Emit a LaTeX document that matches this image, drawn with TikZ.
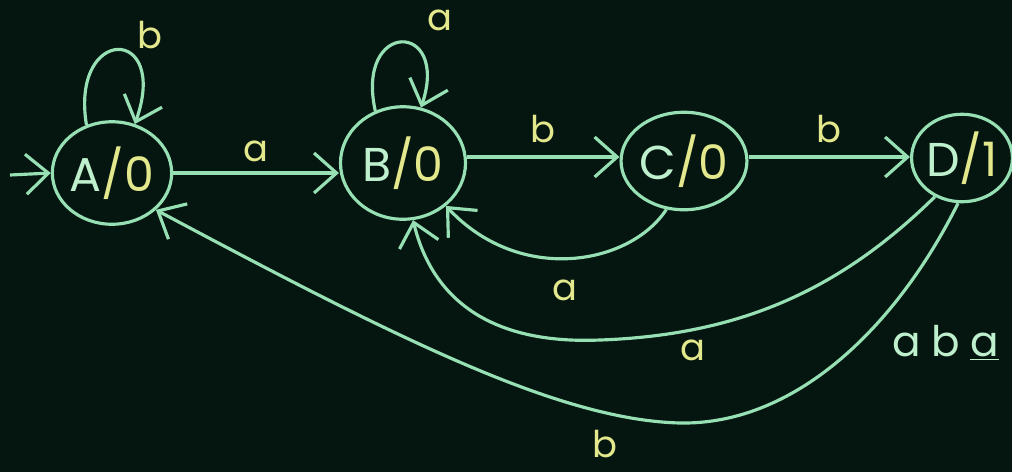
\documentclass[tikz,border=0pt]{standalone}
\usepackage{fontspec}
\setmainfont{Poppins}
\usepackage{tikz}
\usetikzlibrary{arrows.meta,shapes.geometric}
\definecolor{board}{RGB}{5,22,17}
\definecolor{chalk}{RGB}{150,224,180}
\definecolor{pale}{RGB}{190,240,205}
\definecolor{chalkyellow}{RGB}{228,232,140}

\begin{document}
\begin{tikzpicture}[
  x=0.2mm, y=-0.2mm,
  state/.style={
    draw=chalk, ellipse, line width=1.8pt,
    inner sep=0pt, text=pale,
    font=\fontsize{27}{27}\selectfont
  },
  arrow/.style={-{Straight Barb[length=4.5mm,width=8mm]},line width=1.8pt,chalk},
  lab/.style={text=chalkyellow,font=\fontsize{21}{21}\selectfont}
]
\clip (0,0) rectangle (1012,472);
\fill[board] (0,0) rectangle (1012,472);

\node[state,minimum width=2.2cm,minimum height=2.05cm] (A) at (112,173)
  {A\textcolor{chalkyellow}{/0}};
\node[state,minimum width=2.5cm,minimum height=2.25cm] (B) at (403,163)
  {B\textcolor{chalkyellow}{/0}};
\node[state,minimum width=2.2cm,minimum height=1.95cm] (C) at (684,161)
  {C\textcolor{chalkyellow}{/0}};
\node[state,minimum width=1.95cm,minimum height=1.75cm] (D) at (962,158)
  {D\textcolor{chalkyellow}{/1}};
\coordinate (start) at (10,175);

\draw[arrow] (start) -- (A.west);
\draw[arrow] (A.118) .. controls (70,25) and (170,25) .. (A.65)
  node[lab] at (150,35) {b};
\draw[arrow] (A.east |- 0,173) -- (B.west |- 0,173)
  node[lab,midway,above=2pt] {a};
\draw[arrow] (B.118) .. controls (355,20) and (450,20) .. (B.72)
  node[lab] at (440,20) {a};
\draw[arrow] (B.east |- 0,157) -- (C.west |- 0,157)
  node[lab,midway,above=4pt] {b};
\draw[arrow] (C.east |- 0,157) -- (D.west |- 0,157)
  node[lab,midway,above=4pt] {b};
\draw[arrow] (C.250) .. controls (630,265) and (520,285) .. (B.-45)
  node[lab] at (565,290) {a};
\draw[arrow] (D.235) .. controls (840,290) and (740,335) .. (600,340)
  .. controls (480,345) and (430,290) .. (B.-80)
  node[lab] at (693,350) {a};
\draw[arrow] (D.265) .. controls (900,320) and (800,425) .. (680,423)
  .. controls (560,420) and (400,340) .. (A.-40)
  node[lab] at (605,444) {b};

\node[text=pale,font=\fontsize{24}{24}\selectfont,anchor=west] (word) at (886,343)
  {a\hspace{6pt}b\hspace{6pt}\underline{a}};
\end{tikzpicture}
\end{document}
